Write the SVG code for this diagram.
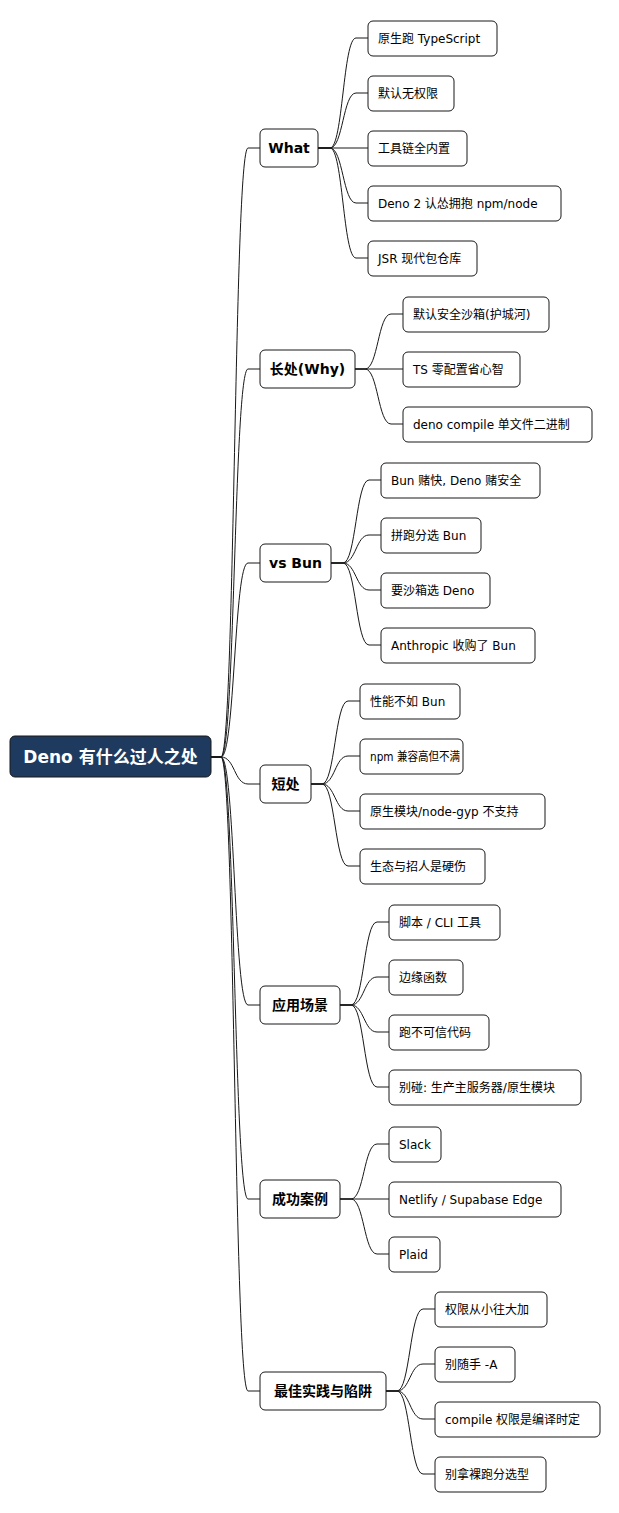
<svg xmlns="http://www.w3.org/2000/svg" width="619" height="1513" viewBox="0 0 619 1513">
<style>
.b{fill:#fff;stroke:#181818;stroke-width:1}
.t{font-family:"DejaVu Sans","Noto Sans CJK SC",sans-serif;font-size:12px;fill:#000}
.h{font-family:"DejaVu Sans","Noto Sans CJK SC",sans-serif;font-size:14px;font-weight:bold;fill:#000}
.c path{fill:none;stroke:#181818;stroke-width:1}
</style>
<rect width="619" height="1513" fill="#fff"/>
<g class="c">
<path d="M211 757H221C235 757 234 148 248 148H260"/>
<path d="M211 757H221C235 757 234 369 248 369H260"/>
<path d="M211 757H221C235 757 234 563 248 563H260"/>
<path d="M211 757H221C235 757 234 784 248 784H260"/>
<path d="M211 757H221C235 757 234 1005 248 1005H260"/>
<path d="M211 757H221C235 757 234 1199 248 1199H260"/>
<path d="M211 757H221C235 757 234 1391 248 1391H260"/>
<path d="M318 148H330C343 148 343 38 356 38H368"/>
<path d="M318 148H330C343 148 343 93 356 93H368"/>
<path d="M318 148H368"/>
<path d="M318 148H330C343 148 343 203 356 203H368"/>
<path d="M318 148H330C343 148 343 258 356 258H368"/>
<path d="M355 369H365C378 369 378 314 391 314H403"/>
<path d="M355 369H403"/>
<path d="M355 369H365C378 369 378 424 391 424H403"/>
<path d="M331 563H343C356 563 356 480 369 480H381"/>
<path d="M331 563H343C356 563 356 535 369 535H381"/>
<path d="M331 563H343C356 563 356 590 369 590H381"/>
<path d="M331 563H343C356 563 356 645 369 645H381"/>
<path d="M311 784H322C335 784 335 701 348 701H360"/>
<path d="M311 784H322C335 784 335 756 348 756H360"/>
<path d="M311 784H322C335 784 335 811 348 811H360"/>
<path d="M311 784H322C335 784 335 866 348 866H360"/>
<path d="M340 1005H351C364 1005 364 922 377 922H389"/>
<path d="M340 1005H351C364 1005 364 977 377 977H389"/>
<path d="M340 1005H351C364 1005 364 1032 377 1032H389"/>
<path d="M340 1005H351C364 1005 364 1087 377 1087H389"/>
<path d="M340 1199H351C364 1199 364 1144 377 1144H389"/>
<path d="M340 1199H389"/>
<path d="M340 1199H351C364 1199 364 1254 377 1254H389"/>
<path d="M386 1391H397C410 1391 410 1309 423 1309H435"/>
<path d="M386 1391H397C410 1391 410 1364 423 1364H435"/>
<path d="M386 1391H397C410 1391 410 1419 423 1419H435"/>
<path d="M386 1391H397C410 1391 410 1474 423 1474H435"/>
</g>
<g id="root"><rect x="10" y="736" width="201" height="41" rx="5" fill="#1e3a5f" stroke="#181818"/><text x="110.5" y="763" text-anchor="middle" font-family="DejaVu Sans,'Noto Sans CJK SC',sans-serif" font-size="17" font-weight="bold" fill="#fff">Deno 有什么过人之处</text></g>
<g id="what"><rect class="b" x="260" y="129" width="58" height="38" rx="5"/><text class="h" x="289" y="153" text-anchor="middle">What</text></g>
<g id="why"><rect class="b" x="260" y="350" width="95" height="38" rx="5"/><text class="h" x="307.5" y="374" text-anchor="middle">长处(Why)</text></g>
<g id="vsbun"><rect class="b" x="260" y="544" width="71" height="38" rx="5"/><text class="h" x="295.5" y="568" text-anchor="middle">vs Bun</text></g>
<g id="short"><rect class="b" x="260" y="765" width="51" height="38" rx="5"/><text class="h" x="285.5" y="789" text-anchor="middle">短处</text></g>
<g id="apps"><rect class="b" x="260" y="986" width="80" height="38" rx="5"/><text class="h" x="300" y="1010" text-anchor="middle">应用场景</text></g>
<g id="cases"><rect class="b" x="260" y="1180" width="80" height="38" rx="5"/><text class="h" x="300" y="1204" text-anchor="middle">成功案例</text></g>
<g id="best"><rect class="b" x="260" y="1372" width="126" height="38" rx="5"/><text class="h" x="323" y="1396" text-anchor="middle">最佳实践与陷阱</text></g>
<g id="w1"><rect class="b" x="368" y="21" width="129" height="35" rx="5"/><text class="t" x="378" y="43">原生跑 TypeScript</text></g>
<g id="w2"><rect class="b" x="368" y="76" width="86" height="35" rx="5"/><text class="t" x="378" y="98">默认无权限</text></g>
<g id="w3"><rect class="b" x="368" y="131" width="99" height="35" rx="5"/><text class="t" x="378" y="153">工具链全内置</text></g>
<g id="w4"><rect class="b" x="368" y="186" width="193" height="35" rx="5"/><text class="t" x="378" y="208">Deno 2 认怂拥抱 npm/node</text></g>
<g id="w5"><rect class="b" x="368" y="241" width="109" height="35" rx="5"/><text class="t" x="378" y="263">JSR 现代包仓库</text></g>
<g id="y1"><rect class="b" x="403" y="297" width="146" height="35" rx="5"/><text class="t" x="413" y="319">默认安全沙箱(护城河)</text></g>
<g id="y2"><rect class="b" x="403" y="352" width="117" height="35" rx="5"/><text class="t" x="413" y="374">TS 零配置省心智</text></g>
<g id="y3"><rect class="b" x="403" y="407" width="189" height="35" rx="5"/><text class="t" x="413" y="429">deno compile 单文件二进制</text></g>
<g id="v1"><rect class="b" x="381" y="463" width="159" height="35" rx="5"/><text class="t" x="391" y="485">Bun 赌快, Deno 赌安全</text></g>
<g id="v2"><rect class="b" x="381" y="518" width="100" height="35" rx="5"/><text class="t" x="391" y="540">拼跑分选 Bun</text></g>
<g id="v3"><rect class="b" x="381" y="573" width="109" height="35" rx="5"/><text class="t" x="391" y="595">要沙箱选 Deno</text></g>
<g id="v4"><rect class="b" x="381" y="628" width="154" height="35" rx="5"/><text class="t" x="391" y="650">Anthropic 收购了 Bun</text></g>
<g id="s1"><rect class="b" x="360" y="684" width="100" height="35" rx="5"/><text class="t" x="370" y="706">性能不如 Bun</text></g>
<g id="s2"><rect class="b" x="360" y="739" width="103" height="35" rx="5"/><text class="t" x="370" y="761" textLength="90" lengthAdjust="spacingAndGlyphs">npm 兼容高但不满</text></g>
<g id="s3"><rect class="b" x="360" y="794" width="185" height="35" rx="5"/><text class="t" x="370" y="816">原生模块/node-gyp 不支持</text></g>
<g id="s4"><rect class="b" x="360" y="849" width="125" height="35" rx="5"/><text class="t" x="370" y="871">生态与招人是硬伤</text></g>
<g id="a1"><rect class="b" x="389" y="905" width="111" height="35" rx="5"/><text class="t" x="399" y="927">脚本 / CLI 工具</text></g>
<g id="a2"><rect class="b" x="389" y="960" width="74" height="35" rx="5"/><text class="t" x="399" y="982">边缘函数</text></g>
<g id="a3"><rect class="b" x="389" y="1015" width="100" height="35" rx="5"/><text class="t" x="399" y="1037">跑不可信代码</text></g>
<g id="a4"><rect class="b" x="389" y="1070" width="192" height="35" rx="5"/><text class="t" x="399" y="1092">别碰: 生产主服务器/原生模块</text></g>
<g id="c1"><rect class="b" x="389" y="1127" width="52" height="35" rx="5"/><text class="t" x="399" y="1149">Slack</text></g>
<g id="c2"><rect class="b" x="389" y="1182" width="172" height="35" rx="5"/><text class="t" x="399" y="1204">Netlify / Supabase Edge</text></g>
<g id="c3"><rect class="b" x="389" y="1237" width="51" height="35" rx="5"/><text class="t" x="399" y="1259">Plaid</text></g>
<g id="b1"><rect class="b" x="435" y="1292" width="112" height="35" rx="5"/><text class="t" x="445" y="1314">权限从小往大加</text></g>
<g id="b2"><rect class="b" x="435" y="1347" width="80" height="35" rx="5"/><text class="t" x="445" y="1369">别随手 -A</text></g>
<g id="b3"><rect class="b" x="435" y="1402" width="165" height="35" rx="5"/><text class="t" x="445" y="1424">compile 权限是编译时定</text></g>
<g id="b4"><rect class="b" x="435" y="1457" width="111" height="35" rx="5"/><text class="t" x="445" y="1479">别拿裸跑分选型</text></g>
</svg>
